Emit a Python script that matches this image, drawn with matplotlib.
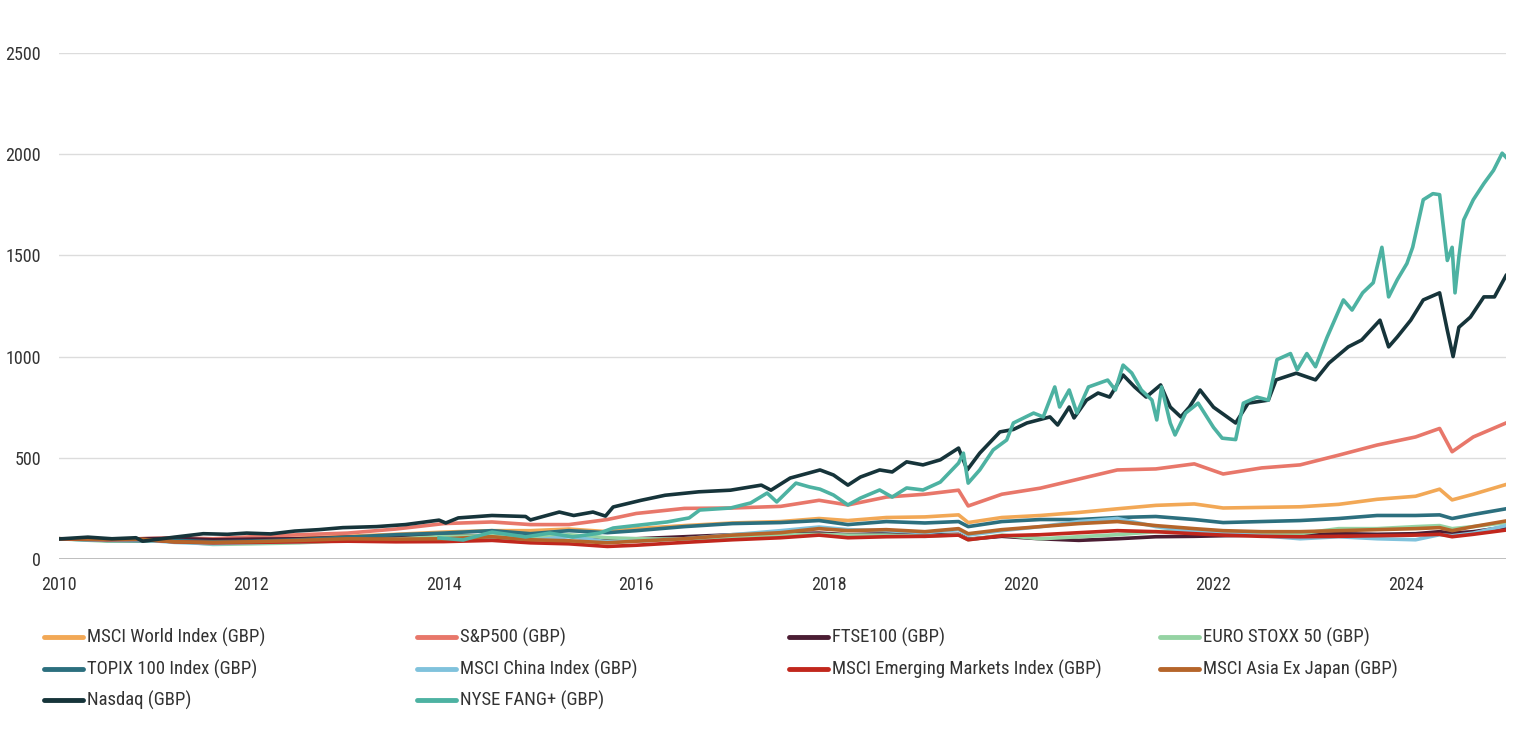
import matplotlib
matplotlib.use("Agg")
import matplotlib.pyplot as plt
from matplotlib import font_manager
from matplotlib.lines import Line2D

# font: narrow grotesk if available
avail = {f.name for f in font_manager.fontManager.ttflist}
for fam in ["Liberation Sans Narrow", "Roboto Condensed", "Roboto", "DejaVu Sans"]:
    if fam in avail:
        plt.rcParams["font.family"] = [fam, "DejaVu Sans"]
        break

# ---- data (index = 100 at start) ----
t_minor = [2010.0, 2010.5, 2010.85, 2011.2, 2011.6, 2012.0, 2012.5, 2013.0, 2013.5, 2014.0,
           2014.5, 2014.9, 2015.3, 2015.7, 2016.0, 2016.5, 2017.0, 2017.5, 2017.9, 2018.2,
           2018.6, 2019.0, 2019.35, 2019.45, 2019.8, 2020.2, 2020.6, 2021.0, 2021.4, 2021.8,
           2022.1, 2022.5, 2022.9, 2023.3, 2023.7, 2024.1, 2024.35, 2024.48, 2024.7, 2025.04]

msci_world = [100, 95, 98, 100, 90, 95, 103, 112, 122, 133,
              140, 140, 148, 135, 150, 165, 178, 185, 200, 190,
              205, 208, 218, 180, 205, 215, 230, 248, 265, 272,
              252, 255, 258, 270, 295, 310, 345, 292, 320, 368]
sp500 = [100, 98, 100, 105, 100, 110, 120, 128, 148, 175,
         183, 170, 170, 195, 225, 250, 252, 260, 290, 267,
         306, 320, 340, 262, 320, 350, 395, 440, 445, 470,
         420, 450, 465, 513, 563, 603, 645, 530, 603, 672]
ftse100 = [100, 95, 100, 102, 95, 98, 100, 108, 112, 115,
           115, 110, 115, 100, 100, 110, 120, 125, 128, 120,
           125, 118, 122, 98, 112, 100, 92, 100, 110, 112,
           115, 118, 120, 125, 122, 125, 135, 128, 135, 158]
euro_stoxx = [100, 88, 90, 88, 72, 75, 80, 92, 98, 112,
              115, 105, 120, 105, 100, 98, 108, 120, 122, 118,
              118, 112, 120, 95, 118, 100, 110, 120, 135, 140,
              130, 120, 125, 150, 150, 160, 165, 150, 160, 180]
topix = [100, 92, 90, 92, 85, 88, 95, 108, 120, 128,
         140, 125, 140, 130, 140, 160, 175, 180, 190, 170,
         185, 178, 185, 160, 185, 195, 195, 205, 210, 195,
         180, 185, 190, 200, 215, 215, 218, 200, 220, 248]
msci_china = [100, 92, 95, 82, 75, 80, 85, 92, 88, 90,
              98, 92, 110, 85, 88, 100, 120, 140, 158, 145,
              140, 130, 145, 118, 140, 160, 185, 200, 160, 135,
              125, 115, 100, 110, 100, 95, 120, 115, 128, 165]
msci_em = [100, 95, 97, 85, 80, 82, 85, 88, 85, 86,
           92, 80, 75, 62, 68, 82, 95, 105, 118, 105,
           110, 112, 118, 95, 115, 120, 130, 140, 135, 125,
           118, 112, 110, 112, 115, 118, 122, 110, 122, 143]
asia_ex_japan = [100, 97, 98, 85, 82, 85, 92, 100, 98, 100,
                 110, 95, 90, 80, 88, 100, 118, 130, 150, 140,
                 145, 135, 150, 125, 145, 160, 175, 185, 165, 150,
                 140, 135, 135, 140, 145, 150, 155, 140, 160, 188]

t_nasdaq = [2010.0, 2010.3, 2010.55, 2010.8, 2010.87, 2011.2, 2011.5, 2011.75, 2011.95, 2012.2,
            2012.45, 2012.7, 2012.95, 2013.3, 2013.6, 2013.95, 2014.02, 2014.15, 2014.5, 2014.85,
            2014.9, 2015.2, 2015.35, 2015.55, 2015.68, 2015.76, 2016.05, 2016.3, 2016.65, 2016.98,
            2017.3, 2017.4, 2017.6, 2017.91, 2018.05, 2018.2, 2018.33, 2018.53, 2018.66, 2018.81,
            2018.98, 2019.16, 2019.35, 2019.44, 2019.57, 2019.78, 2019.92, 2020.06, 2020.3, 2020.38,
            2020.5, 2020.55, 2020.68, 2020.8, 2020.92, 2021.06, 2021.18, 2021.3, 2021.45, 2021.55,
            2021.66, 2021.75, 2021.86, 2022.0, 2022.23, 2022.36, 2022.57, 2022.65, 2022.86, 2023.06,
            2023.2, 2023.4, 2023.54, 2023.73, 2023.82, 2023.91, 2024.05, 2024.18, 2024.35, 2024.43,
            2024.49, 2024.55, 2024.67, 2024.81, 2024.92, 2025.04]
nasdaq = [99, 108, 100, 105, 88, 108, 125, 122, 128, 124,
          138, 145, 155, 160, 170, 192, 178, 203, 215, 210,
          193, 232, 215, 232, 212, 257, 290, 315, 332, 340,
          365, 340, 400, 440, 415, 365, 405, 440, 430, 480,
          465, 490, 548, 440, 523, 628, 640, 672, 702, 662,
          751, 697, 785, 820, 800, 909, 850, 800, 860, 751,
          702, 751, 835, 750, 672, 770, 785, 885, 918, 885,
          968, 1048, 1082, 1180, 1048, 1097, 1180, 1280, 1315, 1130,
          1000, 1145, 1195, 1295, 1295, 1400]

t_fang = [2013.95, 2014.2, 2014.5, 2014.85, 2015.1, 2015.34, 2015.62, 2015.76, 2016.04, 2016.32,
          2016.55, 2016.66, 2016.98, 2017.19, 2017.36, 2017.46, 2017.66, 2017.8, 2017.91, 2018.05,
          2018.2, 2018.33, 2018.53, 2018.66, 2018.81, 2018.98, 2019.16, 2019.35, 2019.4, 2019.45,
          2019.57, 2019.71, 2019.85, 2019.92, 2020.13, 2020.23, 2020.35, 2020.4, 2020.5, 2020.58,
          2020.7, 2020.9, 2020.98, 2021.06, 2021.15, 2021.25, 2021.36, 2021.41, 2021.46, 2021.55,
          2021.6, 2021.71, 2021.84, 2022.0, 2022.09, 2022.23, 2022.31, 2022.45, 2022.57, 2022.66,
          2022.8, 2022.87, 2022.97, 2023.06, 2023.18, 2023.35, 2023.44, 2023.55, 2023.66, 2023.75,
          2023.82, 2023.91, 2024.01, 2024.07, 2024.18, 2024.28, 2024.35, 2024.43, 2024.48, 2024.51,
          2024.55, 2024.6, 2024.7, 2024.81, 2024.91, 2025.0, 2025.04]
fang_plus = [104, 94, 133, 109, 128, 109, 128, 153, 168, 183,
             203, 242, 252, 277, 326, 282, 375, 356, 345, 316,
             267, 301, 341, 306, 351, 341, 380, 474, 523, 375,
             440, 539, 588, 672, 721, 702, 850, 751, 835, 721,
             850, 884, 835, 958, 919, 835, 785, 687, 850, 672,
             613, 721, 770, 650, 597, 590, 770, 800, 785, 985,
             1015, 935, 1015, 950, 1095, 1280, 1230, 1315, 1365, 1540,
             1295, 1380, 1460, 1540, 1775, 1805, 1800, 1475, 1540, 1315,
             1490, 1675, 1775, 1855, 1920, 2005, 1985]

series = [
    ("MSCI World Index (GBP)", t_minor, msci_world, "#F2A856"),
    ("S&P500 (GBP)", t_minor, sp500, "#E8776A"),
    ("FTSE100 (GBP)", t_minor, ftse100, "#4B1D33"),
    ("EURO STOXX 50 (GBP)", t_minor, euro_stoxx, "#95D3A3"),
    ("TOPIX 100 Index (GBP)", t_minor, topix, "#2C6F7E"),
    ("MSCI China Index (GBP)", t_minor, msci_china, "#80C2DC"),
    ("MSCI Emerging Markets Index (GBP)", t_minor, msci_em, "#C1271D"),
    ("MSCI Asia Ex Japan (GBP)", t_minor, asia_ex_japan, "#B5652A"),
    ("Nasdaq (GBP)", t_nasdaq, nasdaq, "#16343A"),
    ("NYSE FANG+ (GBP)", t_fang, fang_plus, "#4DB2A2"),
]

fig = plt.figure(figsize=(15.22, 7.46), dpi=100)
ax = fig.add_axes([59 / 1522, 1 - 559 / 746, (1506 - 59) / 1522, (559 - 53) / 746])

for label, t, v, c in series:
    ax.plot(t, v, color=c, lw=2.6, solid_joinstyle="round")

ax.set_xlim(2010, 2025.04)
ax.set_ylim(0, 2500)
ax.set_yticks([0, 500, 1000, 1500, 2000, 2500])
ax.set_xticks(range(2010, 2025, 2))
ax.grid(axis="y", color="#dcdcdc", lw=1)
ax.set_axisbelow(True)
for s in ax.spines.values():
    s.set_visible(False)
ax.axhline(0, color="#b0b0b0", lw=2, zorder=0.5)
ax.tick_params(length=0, labelsize=13, labelcolor="#333333")
ax.tick_params(axis="y", pad=13)
ax.tick_params(axis="x", pad=12)

# legend, 4 columns
col_x = [44, 417, 789, 1160]
row_y = [637, 669, 700]
for i, (label, t, v, c) in enumerate(series):
    x0 = col_x[i % 4]
    y0 = row_y[i // 4]
    fig.add_artist(Line2D([x0 / 1522, (x0 + 39) / 1522], [1 - y0 / 746] * 2,
                          color=c, lw=3.5, solid_capstyle="round"))
    fig.text((x0 + 43) / 1522, 1 - y0 / 746, label, fontsize=13.5, color="#333333",
             va="center", ha="left")

fig.savefig("out.png", dpi=100)
